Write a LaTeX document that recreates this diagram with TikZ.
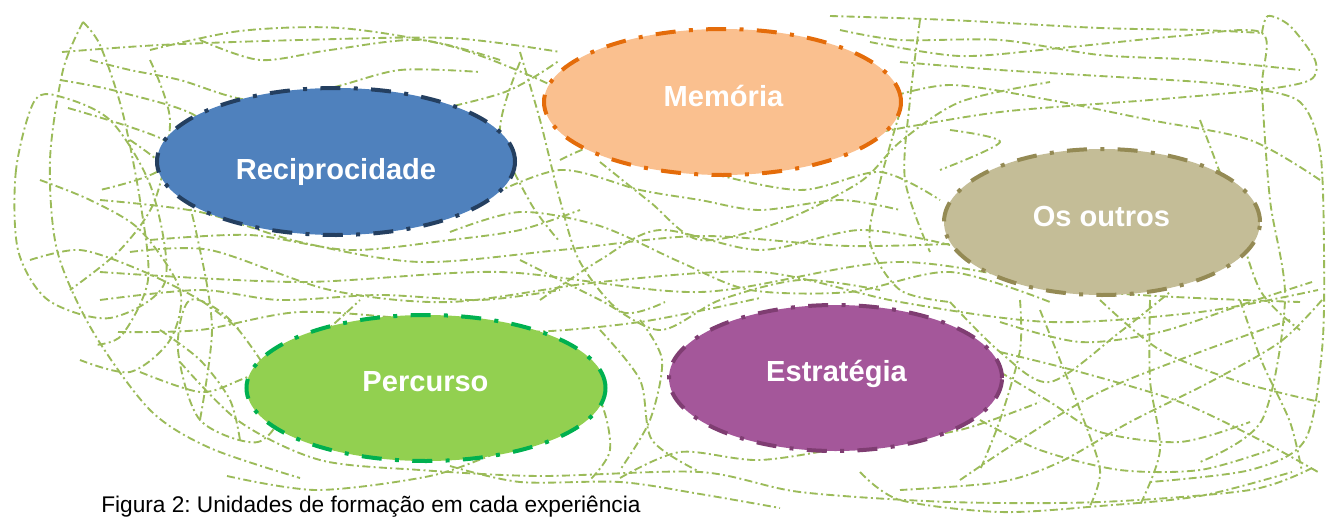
\documentclass[tikz,border=0pt]{standalone}
\usepackage{fontspec}
\setmainfont{Liberation Sans}
\usetikzlibrary{shapes.geometric}
\frenchspacing

\definecolor{scribblegreen}{HTML}{9BBB59}
\definecolor{recipfill}{HTML}{4F81BD}
\definecolor{recipline}{HTML}{243F60}
\definecolor{memfill}{HTML}{FAC08F}
\definecolor{memline}{HTML}{E46C0A}
\definecolor{outfill}{HTML}{C4BD97}
\definecolor{outline}{HTML}{948A54}
\definecolor{percfill}{HTML}{92D050}
\definecolor{percline}{HTML}{00B050}
\definecolor{estfill}{HTML}{A4579A}
\definecolor{estline}{HTML}{7F3D72}

\begin{document}
\begin{tikzpicture}[
  x=0.75pt, y=-0.75pt,
  scribble/.style={draw=scribblegreen, line width=1.4pt, dash pattern=on 6pt off 2.5pt on 1.5pt off 2.5pt},
  unit/.style={ellipse, line width=3pt, dash pattern=on 15pt off 10pt on 3pt off 10pt, inner sep=0pt, minimum height=109.5pt},
  unitlabel/.style={anchor=base, inner sep=0pt, text=white, font=\bfseries\fontsize{21.8}{26}\selectfont}
]
\useasboundingbox (0,0) rectangle (1336,518);

% tangle of paths behind the units
\draw[scribble] plot[smooth] coordinates {(83,22) (63,70) (50,160) (57,250) (92,330) (150,410) (210,448) (300,478)};
\draw[scribble] plot[smooth cycle] coordinates {(35,100) (16,170) (18,250) (48,300) (110,318) (165,282) (152,190) (112,122) (65,98)};
\draw[scribble] plot[smooth] coordinates {(83,22) (100,45) (122,110) (140,200) (148,280) (122,335) (95,345)};
\draw[scribble] plot[smooth] coordinates {(62,52) (160,45) (300,40) (450,38) (560,52)};
\draw[scribble] plot[smooth] coordinates {(150,50) (240,31) (340,28) (450,46) (540,80) (600,112)};
\draw[scribble] plot[smooth] coordinates {(200,40) (260,60) (330,50) (420,40) (500,60)};
\draw[scribble] plot[smooth] coordinates {(68,108) (160,138) (225,180) (300,158) (400,120) (505,92) (560,60)};
\draw[scribble] plot[smooth] coordinates {(90,60) (130,70) (180,80) (250,100) (330,88) (400,70) (480,72)};
\draw[scribble] plot[smooth] coordinates {(60,80) (120,92) (200,120) (160,170) (100,190)};
\draw[scribble] plot[smooth] coordinates {(150,60) (170,120) (155,200) (120,250) (70,290)};
\draw[scribble] plot[smooth] coordinates {(100,200) (200,212) (300,242) (420,262) (560,250) (700,236) (850,246) (1000,242)};
\draw[scribble] plot[smooth] coordinates {(150,240) (250,235) (350,250) (450,240) (520,230) (580,210)};
\draw[scribble] plot[smooth] coordinates {(130,252) (210,250) (330,290) (450,302) (600,282) (760,272) (900,302) (1050,322) (1200,312) (1318,290)};
\draw[scribble] plot[smooth] coordinates {(100,300) (200,290) (280,300) (380,295) (480,300) (560,290)};
\draw[scribble] plot[smooth] coordinates {(118,332) (200,330) (300,312) (420,320) (520,332) (640,322) (760,298)};
\draw[scribble] plot[smooth] coordinates {(100,272) (300,282) (500,272) (700,292) (900,262) (1100,292) (1300,302)};
\draw[scribble] plot[smooth] coordinates {(30,260) (80,250) (140,270) (200,300) (240,330)};
\draw[scribble] plot[smooth] coordinates {(40,180) (90,200) (140,230) (180,290) (170,340) (130,372) (80,360)};
\draw[scribble] plot[smooth] coordinates {(140,372) (200,392) (240,380) (300,352) (360,300)};
\draw[scribble] plot[smooth] coordinates {(160,330) (200,360) (230,400) (240,440)};
\draw[scribble] plot[smooth] coordinates {(227,476) (317,490) (430,476) (500,452) (560,432)};
\draw[scribble] plot[smooth] coordinates {(180,362) (240,422) (320,460) (420,470) (540,476) (700,472) (800,492) (950,502) (1100,502) (1250,490) (1312,468)};
\draw[scribble] plot[smooth] coordinates {(130,140) (180,182) (200,250) (212,330) (200,420)};
\draw[scribble] plot[smooth cycle] coordinates {(190,300) (178,350) (200,420) (258,442) (282,400) (232,322)};
\draw[scribble] plot[smooth] coordinates {(450,466) (520,482) (620,482) (700,494) (780,508)};
\draw[scribble] plot[smooth] coordinates {(520,52) (540,120) (560,200) (580,262) (622,312) (665,302)};
\draw[scribble] plot[smooth] coordinates {(520,62) (500,132) (530,202) (560,242)};
\draw[scribble] plot[smooth] coordinates {(480,200) (560,170) (640,190) (700,200) (760,210) (840,200) (900,210)};
\draw[scribble] plot[smooth] coordinates {(600,162) (650,202) (700,240) (780,222) (860,182) (900,142) (960,102) (1050,82)};
\draw[scribble] plot[smooth] coordinates {(450,232) (520,212) (600,226) (680,262) (750,290) (850,292) (950,272) (1050,302)};
\draw[scribble] plot[smooth] coordinates {(560,160) (620,140) (700,170) (800,190) (880,172) (940,200)};
\draw[scribble] plot[smooth] coordinates {(540,300) (600,260) (660,230) (760,250) (860,230) (950,245)};
\draw[scribble] plot[smooth] coordinates {(520,260) (600,300) (660,330) (720,300) (800,280) (880,290)};
\draw[scribble] plot[smooth] coordinates {(600,330) (640,380) (652,440) (700,472)};
\draw[scribble] plot[smooth] coordinates {(560,340) (600,400) (610,450) (590,480)};
\draw[scribble] plot[smooth] coordinates {(640,320) (662,360) (650,420) (620,470)};
\draw[scribble] plot[smooth] coordinates {(620,478) (680,452) (760,460) (860,445) (960,430) (1040,402)};
\draw[scribble] plot[smooth] coordinates {(830,16) (950,20) (1100,28) (1200,30) (1262,33)};
\draw[scribble] plot[smooth] coordinates {(840,30) (900,40) (1000,40) (1100,55) (1200,60) (1300,70)};
\draw[scribble] plot[smooth] coordinates {(1262,33) (1268,16) (1290,26) (1315,60) (1310,80) (1260,90) (1150,100) (1000,112) (880,132)};
\draw[scribble] plot[smooth] coordinates {(870,42) (960,56) (1060,48) (1180,36) (1262,33) (1262,90) (1270,200) (1285,300) (1262,420) (1200,462)};
\draw[scribble] plot[smooth] coordinates {(900,62) (1000,70) (1100,76) (1200,82) (1250,88) (1300,102) (1320,150) (1324,250) (1322,350) (1305,440) (1250,470) (1150,482)};
\draw[scribble] plot[smooth] coordinates {(880,100) (950,85) (1050,100) (1150,120) (1250,140) (1320,180)};
\draw[scribble] plot[smooth] coordinates {(950,130) (1000,142) (940,170)};
\draw[scribble] plot[smooth] coordinates {(1200,120) (1230,200) (1260,290) (1300,330)};
\draw[scribble] plot[smooth] coordinates {(900,112) (880,182) (870,242) (900,290) (950,302)};
\draw[scribble] plot[smooth] coordinates {(920,20) (910,100) (905,180) (930,252)};
\draw[scribble] plot[smooth] coordinates {(1000,372) (1050,402) (1100,432) (1180,442) (1250,422)};
\draw[scribble] plot[smooth] coordinates {(1100,300) (1160,350) (1240,382) (1320,402)};
\draw[scribble] plot[smooth] coordinates {(1000,322) (1080,342) (1160,332) (1250,302) (1312,282)};
\draw[scribble] plot[smooth] coordinates {(860,472) (900,500) (1000,512) (1100,506) (1200,496) (1292,472)};
\draw[scribble] plot[smooth] coordinates {(1322,300) (1280,342) (1210,382) (1130,422) (1060,462) (1000,482) (900,490)};
\draw[scribble] plot[smooth] coordinates {(950,302) (1000,352) (1050,382) (1120,332) (1170,292)};
\draw[scribble] plot[smooth] coordinates {(1240,300) (1262,362) (1290,422) (1302,472)};
\draw[scribble] plot[smooth] coordinates {(1000,352) (1080,372) (1180,402) (1260,440) (1318,472)};
\draw[scribble] plot[smooth] coordinates {(1040,310) (1060,360) (1080,410) (1100,470) (1090,506)};
\draw[scribble] plot[smooth] coordinates {(960,480) (1020,440) (1100,392) (1200,352) (1290,320)};
\draw[scribble] plot[smooth] coordinates {(980,420) (1040,450) (1120,470) (1200,470) (1270,450)};
\draw[scribble] plot[smooth] coordinates {(1020,300) (1020,350) (1000,420) (980,470)};
\draw[scribble] plot[smooth] coordinates {(1150,300) (1150,380) (1160,450) (1140,505)};

% units
\node[unit, fill=recipfill, draw=recipline, minimum width=268.5pt, minimum height=110.25pt] (recip) at (336,161.5) {};
\node[unit, fill=memfill, draw=memline, minimum width=267.75pt] (memoria) at (722.5,102) {};
\node[unit, fill=outfill, draw=outline, minimum width=237pt] (outros) at (1102,222) {};
\node[unit, fill=percfill, draw=percline, minimum width=269.25pt] (percurso) at (426,388) {};
\node[unit, fill=estfill, draw=estline, minimum width=249.75pt] (estrategia) at (835.5,378) {};

\node[unitlabel] (recip-txt) at (336,179) {Reciprocidade};
\node[unitlabel] (memoria-txt) at (723.5,106) {Memória};
\node[unitlabel] (outros-txt) at (1101.5,226) {Os outros};
\node[unitlabel] (percurso-txt) at (425.5,391) {Percurso};
\node[unitlabel] (estrategia-txt) at (836.5,381) {Estratégia};

\node[anchor=base west, inner sep=0pt, font=\fontsize{17}{20}\selectfont] (caption) at (101,512) {Figura 2: Unidades de formação em cada experiência};
\end{tikzpicture}
\end{document}
